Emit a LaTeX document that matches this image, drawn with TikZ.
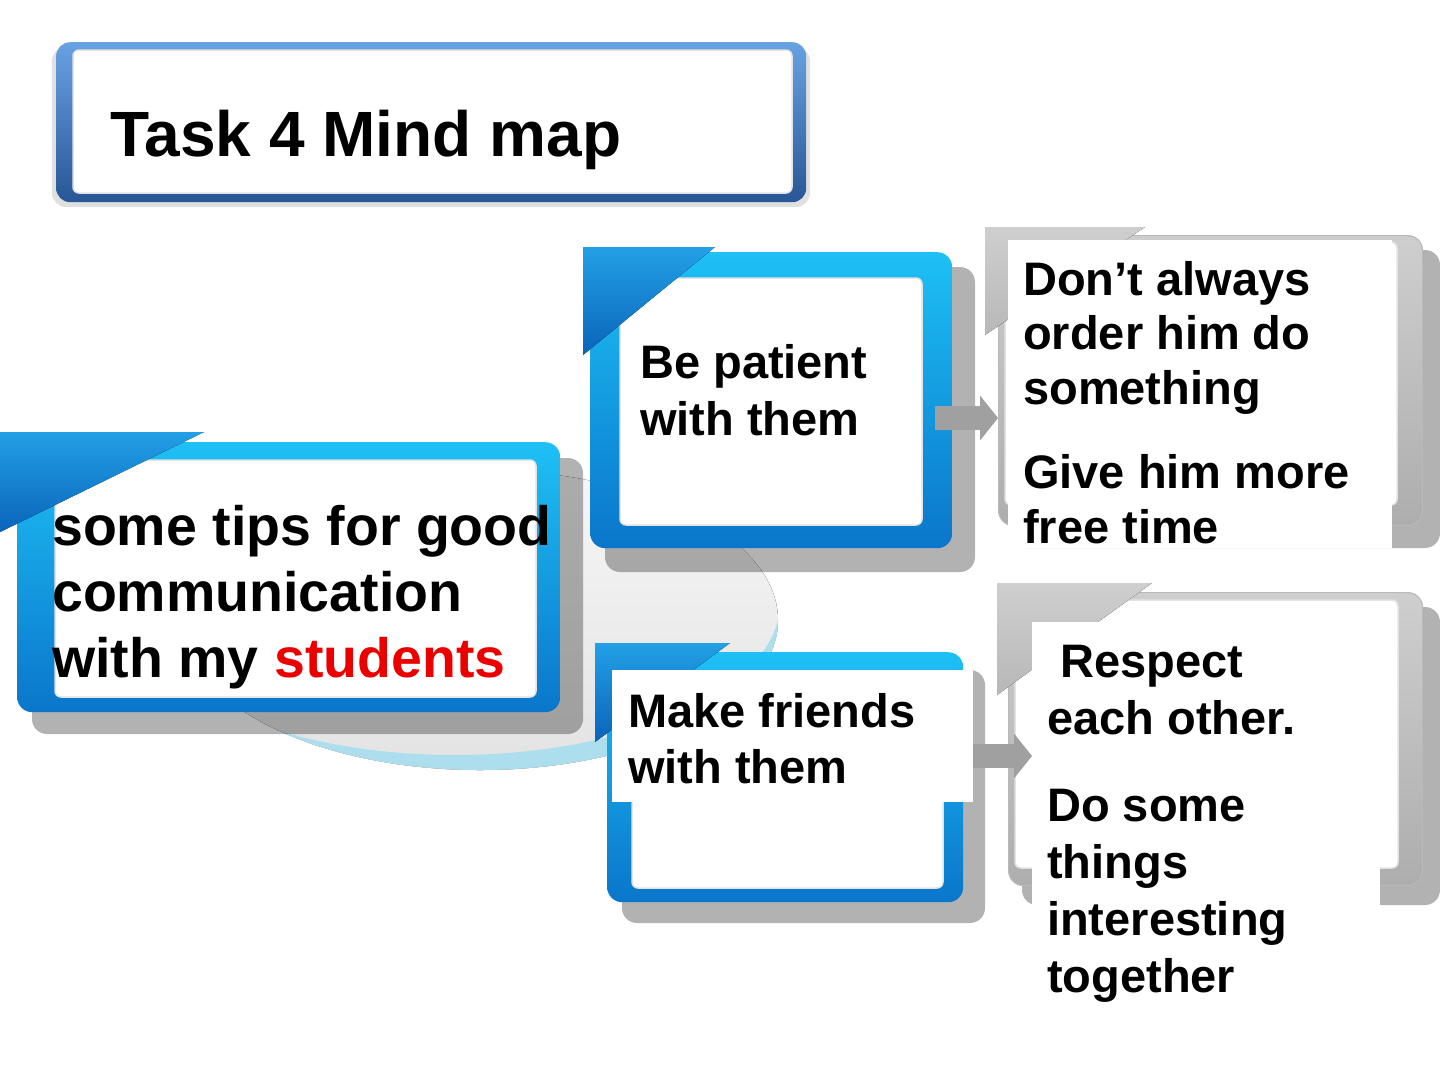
\documentclass[tikz,border=0pt]{standalone}
\usepackage{fontspec}
\setmainfont{Liberation Sans}
\usetikzlibrary{arrows.meta,calc}
\definecolor{bluetop}{RGB}{30,192,246}
\definecolor{bluebot}{RGB}{10,118,202}
\definecolor{ribtop}{RGB}{34,160,230}
\definecolor{ribbot}{RGB}{10,100,186}
\definecolor{titletop}{RGB}{104,162,226}
\definecolor{titlebot}{RGB}{40,86,150}
\definecolor{arrowgray}{RGB}{160,160,160}
\definecolor{ellblue}{RGB}{172,222,238}
\definecolor{tipred}{RGB}{235,0,0}
\tikzset{
 shadowbox/.style={fill=black, opacity=0.3, rounded corners=15pt},
 blueframe/.style={top color=bluetop, bottom color=bluebot, rounded corners=15pt, inner sep=0pt, anchor=north west},
 grayframe/.style={top color=gray!38, bottom color=gray!64, draw=gray!55, line width=1.2pt, rounded corners=15pt, inner sep=0pt, anchor=north west},
 titleframe/.style={top color=titletop, bottom color=titlebot, rounded corners=14pt, inner sep=0pt, anchor=north west},
 innerwhite/.style={fill=white, draw=gray!22, line width=1.5pt, rounded corners=6pt},
 blueribbon/.style={top color=ribtop, bottom color=ribbot},
 grayribbon/.style={top color=gray!38, bottom color=gray!56},
 tiptext/.style={anchor=base west, align=left, inner sep=0pt, font=\bfseries\fontsize{47pt}{56pt}\selectfont},
 connector/.style={draw=arrowgray, line width=24pt, -{Triangle[length=18pt,width=44pt]}},
}
\begin{document}
\begin{tikzpicture}[x=1pt,y=-1pt]
\useasboundingbox (0,0) rectangle (1440,1080);
\fill[white] (0,0) rectangle (1440,1080);

% background ellipse
\fill[top color=gray!7, bottom color=gray!22] (480,620) ellipse [x radius=298, y radius=150];
\begin{scope}
  \clip (480,620) ellipse [x radius=298, y radius=150];
  \fill[ellblue, even odd rule] (100,400) rectangle (820,800) (455,603) ellipse [x radius=325, y radius=152];
\end{scope}

% title
\fill[black, opacity=0.12, rounded corners=14pt] (52,47) rectangle (810,207);
\node[titleframe, minimum width=750pt, minimum height=160pt] (Tbox) at (56,42) {};
\fill[innerwhite] (73,50) rectangle (792,193);
\node[anchor=base west, inner sep=0pt, font=\bfseries\fontsize{64pt}{70pt}\selectfont] (Ttxt) at (110,156) {Task 4 Mind map};

% main box
\fill[shadowbox] (32,458) rectangle (583,734);
\node[blueframe, minimum width=543pt, minimum height=270pt] (Mbox) at (17,442) {};
\fill[innerwhite] (55,460) rectangle (536,697);
\fill[blueribbon] (0,432) -- (204,432) -- (0,532) -- cycle;
\node[anchor=base west, align=left, inner sep=0pt, font=\bfseries\fontsize{55.5pt}{66pt}\selectfont] (Mtxt) at (52,677) {some tips for good\\communication\\with my \textcolor{tipred}{students}};

% box B
\fill[shadowbox] (605,267) rectangle (975,572);
\node[blueframe, minimum width=362pt, minimum height=296pt] (Bbox) at (590,252) {};
\fill[innerwhite] (620,278) rectangle (922,525);
\fill[blueribbon] (583,247) -- (715,247) -- (583,355) -- cycle;
\node[tiptext, font=\bfseries\fontsize{47pt}{57pt}\selectfont] (Btxt) at (640,435) {Be patient\\with them};

% box F
\fill[shadowbox] (622,670) rectangle (985,923);
\node[blueframe, minimum width=356pt, minimum height=250pt] (Fbox) at (607,652) {};
\fill[innerwhite] (632,675) rectangle (943,888);
\fill[blueribbon] (595,643) -- (730,643) -- (595,742) -- cycle;
\fill[white] (612,670) rectangle (973,802);
\node[tiptext] (Ftxt) at (628,783) {Make friends\\with them};

% box D
\fill[shadowbox] (1013,250) rectangle (1440,548);
\node[grayframe, minimum width=424pt, minimum height=290pt] (Dbox) at (998,235) {};
\fill[innerwhite] (1005,242) rectangle (1397,505);
\fill[grayribbon] (985,227) -- (1145,227) -- (985,335) -- cycle;

% box R
\fill[shadowbox] (1022,607) rectangle (1440,905);
\node[grayframe, minimum width=414pt, minimum height=293pt] (Rbox) at (1008,592) {};
\fill[innerwhite] (1015,600) rectangle (1398,868);
\fill[grayribbon] (997,583) -- (1152,583) -- (997,695) -- cycle;

% connectors
\coordinate (a1) at (0,418);
\coordinate (a2) at (0,756);
\draw[connector] ($(Bbox.east |- a1)+(-17,0)$) -- (Dbox.west |- a1);
\draw[connector] ($(Fbox.east |- a2)+(10,0)$) -- ($(Rbox.west |- a2)+(24,0)$);

% text panels of the gray boxes
\fill[white] (1008,240) rectangle (1392,548);
\node[tiptext, font=\bfseries\fontsize{47pt}{54.5pt}\selectfont] (Dtxt) at (1023,543) {Don’t always\\order him do\\something\\[30pt]Give him more\\free time};
\fill[white] (1032,622) rectangle (1380,1015);
\node[tiptext, font=\bfseries\fontsize{47pt}{57pt}\selectfont] (Rtxt) at (1047,992) {\hspace*{13pt}Respect\\each other.\\[30pt]Do some\\things\\interesting\\together};
\end{tikzpicture}
\end{document}
